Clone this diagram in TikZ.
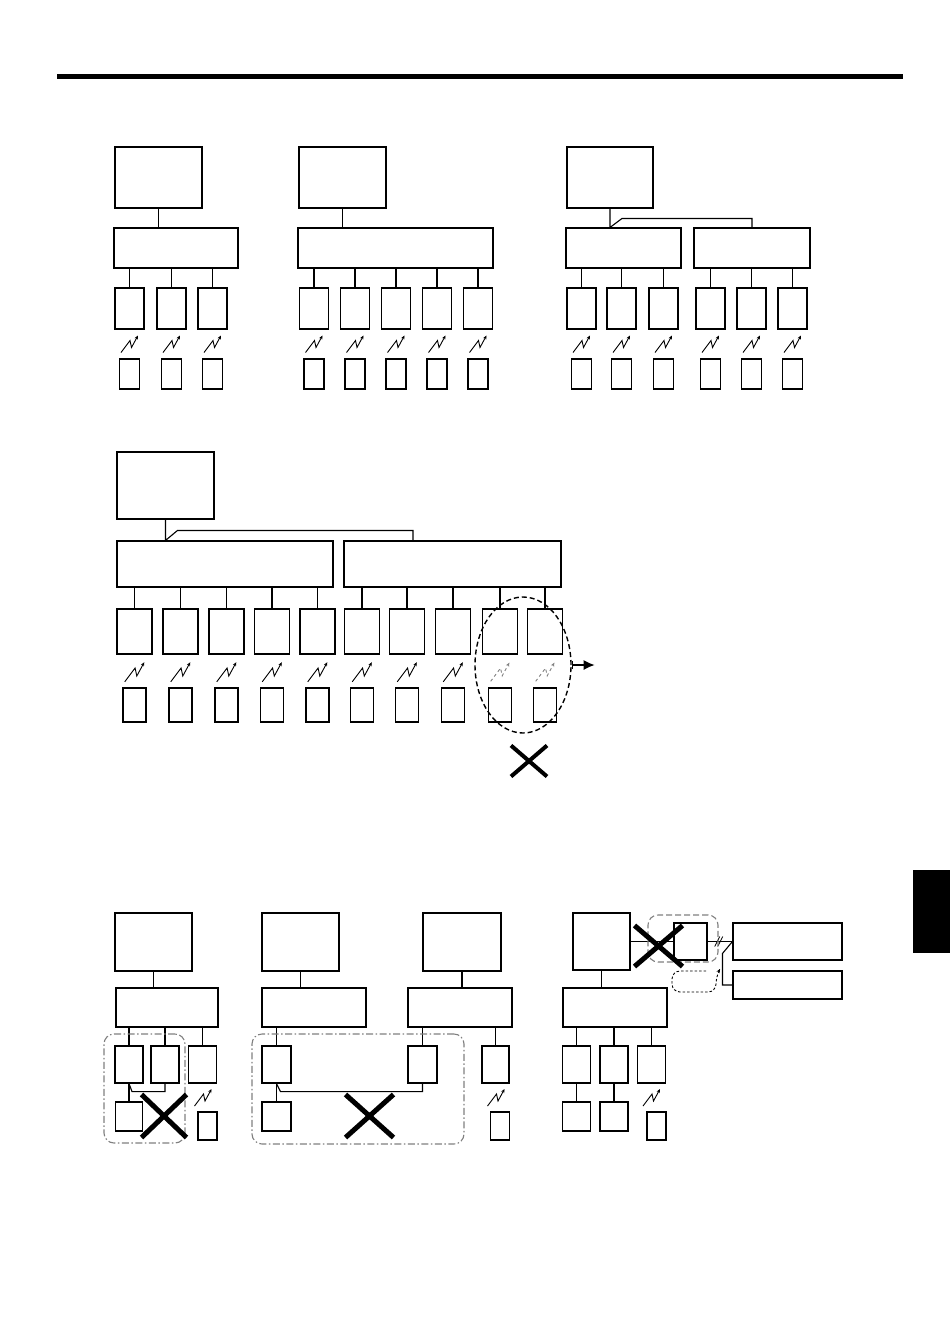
\documentclass[tikz,border=0pt]{standalone}
\usepackage{tikz}
\usetikzlibrary{arrows.meta,shapes.geometric,shapes.misc}

\begin{document}
\begin{tikzpicture}[x=1pt,y=-1pt,line width=1.1pt,
	box/.style={draw,rectangle,inner sep=0pt},
	unit/.style={box,minimum width=29,minimum height=41},
	remote/.style={box,minimum width=20,minimum height=30},
	munit/.style={box,minimum width=35,minimum height=45},
	mremote/.style={box,minimum width=23,minimum height=34},
	bunit/.style={box,minimum width=28,minimum height=37},
	bsub/.style={box,minimum width=27,minimum height=29},
	bremote/.style={box,minimum width=19,minimum height=28},
	cross/.style={draw,cross out,inner sep=0pt,line width=5pt},
	group/.style={draw=gray,rounded corners=10pt,inner sep=0pt,dash pattern=on 7pt off 2.5pt on 1.5pt off 2.5pt},
	radio/.pic={\draw[line width=0.9pt,line join=miter,-{Stealth[length=4pt,width=3.5pt]}] (-8.5,8.5) -- (0.5,-3.5) -- (2,3.5) -- (8.5,-8.5);}]
\useasboundingbox (0,0) rectangle (950,1343);
\fill (57,74) rectangle (903,79);
\fill (913,870) rectangle (950,953);

% first row
\node[box,minimum width=87,minimum height=61] (a0) at (158.5,177.5) {};
\node[box,minimum width=124,minimum height=40] (a1) at (176,248) {};
\draw (a0.south) -- (a0.south |- a1.north);
\foreach \x [count=\i] in {129.5,171.5,212.5}{
	\node[unit] (au\i) at (\x,308.5) {};
	\node[remote] (ar\i) at (\x,374) {};
	\draw (au\i.north) -- (au\i.north |- a1.south);
	\pic at (\x,344) {radio};
}
\node[box,minimum width=87,minimum height=61] (b0) at (342.5,177.5) {};
\node[box,minimum width=195,minimum height=40] (b1) at (395.5,248) {};
\draw (b0.south) -- (b0.south |- b1.north);
\foreach \x [count=\i] in {314,355,396,437,478}{
	\node[unit] (bu\i) at (\x,308.5) {};
	\node[remote] (br\i) at (\x,374) {};
	\draw (bu\i.north) -- (bu\i.north |- b1.south);
	\pic at (\x,344) {radio};
}
\node[box,minimum width=86,minimum height=61] (c0) at (610,177.5) {};
\node[box,minimum width=115,minimum height=40] (c1) at (623.5,248) {};
\node[box,minimum width=116,minimum height=40] (c2) at (752,248) {};
\draw (c0.south) -- (c0.south |- c1.north) -- ++(12,-9) -| (c2.north);
\foreach \x [count=\i] in {581.5,621.5,663.5,710.5,751.5,792.5}{
	\node[unit] (cu\i) at (\x,308.5) {};
	\node[remote] (cr\i) at (\x,374) {};
	\pic at (\x,344) {radio};
}
\foreach \i in {1,2,3} \draw (cu\i.north) -- (cu\i.north |- c1.south);
\foreach \i in {4,5,6} \draw (cu\i.north) -- (cu\i.north |- c2.south);

% second row
\node[box,minimum width=97,minimum height=67] (d0) at (165.5,485.5) {};
\node[box,minimum width=216,minimum height=46] (d1) at (225,564) {};
\node[box,minimum width=217,minimum height=46] (d2) at (452.5,564) {};
\draw (d0.south) -- (d0.south |- d1.north) -- ++(12,-10) -| ([xshift=-39.5pt]d2.north);
\foreach \x [count=\i] in {134.5,180.5,226.5,272,317.5,362,407,453,500,545}{
	\node[munit] (du\i) at (\x,631.5) {};
	\node[mremote] (dr\i) at (\x,705) {};
	\ifnum\i<9
		\pic[scale=1.15] at (\x,672) {radio};
	\else
		\pic[scale=1.1,dashed,gray] at (\x,672) {radio};
	\fi
}
\foreach \i in {1,...,5} \draw (du\i.north) -- (du\i.north |- d1.south);
\foreach \i in {6,...,10} \draw (du\i.north) -- (du\i.north |- d2.south);
\node[draw,ellipse,inner sep=0pt,line width=1.4pt,dash pattern=on 5pt off 3pt,minimum width=96,minimum height=136] (sel) at (523,665) {};
\draw[{Bar[width=8pt]}-{Latex[length=11pt,width=10pt]},line width=1.5pt] (sel.east) -- ++(23,0);
\node[cross,line width=4pt,minimum width=32,minimum height=27] (no1) at (529,761) {};

% third row
\node[box,minimum width=77,minimum height=58] (e0) at (153.5,942) {};
\node[box,minimum width=102,minimum height=39] (e1) at (167,1007.5) {};
\draw (e0.south) -- (e0.south |- e1.north);
\foreach \x [count=\i] in {129,165,202.5}{
	\node[bunit] (eu\i) at (\x,1064.5) {};
	\draw (eu\i.north) -- (eu\i.north |- e1.south);
}
\node[bsub] (es1) at (129,1116.5) {};
\draw (eu1.south) -- (es1.north);
\draw (eu1.south) -- ++(3,8) -| (eu2.south);
\pic at (203,1097.5) {radio};
\node[bremote] (er3) at (207.5,1126) {};
\node[group,minimum width=81,minimum height=109] (ga) at (144.5,1088.5) {};
\node[cross,minimum width=40,minimum height=38] (no2) at (164,1116) {};

\node[box,minimum width=77,minimum height=58] (f0) at (300.5,942) {};
\node[box,minimum width=104,minimum height=39] (f1) at (314,1007.5) {};
\draw (f0.south) -- (f0.south |- f1.north);
\node[bunit,minimum width=29] (fu1) at (276.5,1064.5) {};
\draw (fu1.north) -- (fu1.north |- f1.south);
\node[bsub,minimum width=29] (fs1) at (276.5,1116.5) {};
\draw (fu1.south) -- (fs1.north);

\node[box,minimum width=78,minimum height=58] (g0) at (462,942) {};
\node[box,minimum width=104,minimum height=39] (g1) at (460,1007.5) {};
\draw (g0.south) -- (g0.south |- g1.north);
\node[bunit,minimum width=29] (gu1) at (422.5,1064.5) {};
\node[bunit,minimum width=27] (gu2) at (495.5,1064.5) {};
\foreach \i in {1,2} \draw (gu\i.north) -- (gu\i.north |- g1.south);
\draw (fu1.south) -- ++(4,8) -| (gu1.south);
\pic at (496,1097.5) {radio};
\node[bremote] (gr2) at (500,1126) {};
\node[group,minimum width=212,minimum height=110] (gb) at (358,1089) {};
\node[cross,minimum width=43,minimum height=38] (no3) at (369.5,1116) {};

\node[box,minimum width=57,minimum height=57] (h0) at (601.5,941.5) {};
\node[box,minimum width=104,minimum height=39] (h1) at (615,1007.5) {};
\draw (h0.south) -- (h0.south |- h1.north);
\foreach \x [count=\i] in {576.5,614,651.5}{
	\node[bunit] (hu\i) at (\x,1064.5) {};
	\draw (hu\i.north) -- (hu\i.north |- h1.south);
}
\foreach \i in {1,2}{
	\node[bsub,minimum width=28] (hs\i) at (hu\i |- 0,1116.5) {};
	\draw (hu\i.south) -- (hs\i.north);
}
\pic at (651.5,1097.5) {radio};
\node[bremote] (hr3) at (656.5,1126) {};
\node[box,minimum width=33,minimum height=37] (k) at (690.5,941.5) {};
\node[box,minimum width=109,minimum height=37] (m1) at (787.5,941.5) {};
\node[box,minimum width=109,minimum height=28] (m2) at (787.5,985) {};
\draw (h0.east) -- (k.west);
\draw (k.east) -- coordinate[pos=0.45] (cut) (m1.west);
\draw[line width=0.8pt] ([shift={(-4,5)}]cut) -- ++(5,-10) ([shift={(-1,5)}]cut) -- ++(5,-10);
\draw (m1.west) -- ++(-10,12) |- (m2.west);
\node[draw=gray,dash pattern=on 6pt off 3pt,rounded corners=10pt,inner sep=0pt,minimum width=70,minimum height=47] (gd) at (683,938.5) {};
\node[cross,minimum width=43,minimum height=36] (no4) at (658.5,946) {};
\draw[dash pattern=on 2.5pt off 2pt,line width=0.9pt,rounded corners=8pt,-{Stealth[length=4pt,width=3.5pt]}] (706,971) -- (672,971) -- (672,992) -- (716,992) -- (716,976) -- (720,969);
\end{tikzpicture}
\end{document}
